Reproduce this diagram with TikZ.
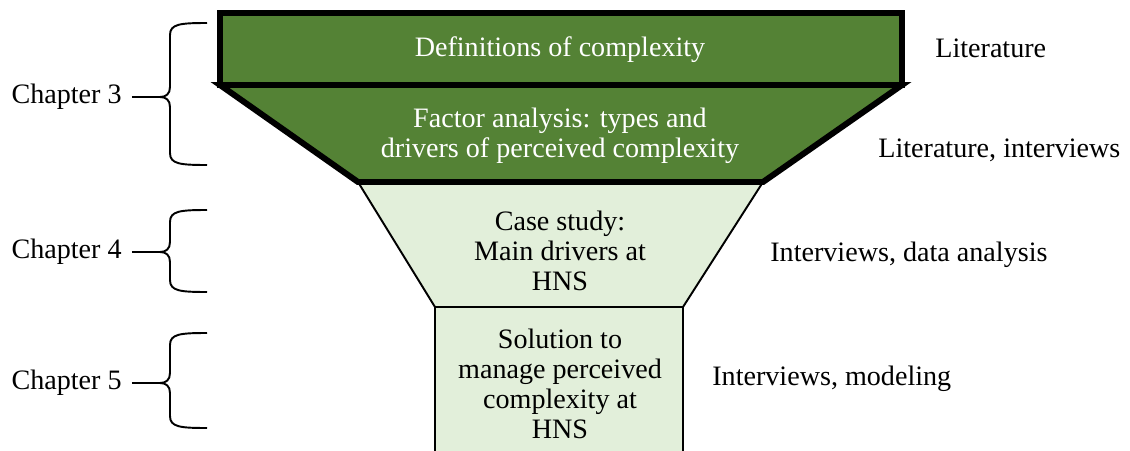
\documentclass[tikz,border=0pt]{standalone}
\usepackage{fontspec}
\setmainfont{Liberation Serif}
\usepackage{tikz}

\definecolor{stagedark}{HTML}{548235}
\definecolor{stagelight}{HTML}{E2EFDA}

\begin{document}
\begin{tikzpicture}[x=0.02cm, y=-0.02cm,
    txt/.style={font=\fontsize{16}{17}\selectfont, align=center, inner sep=0pt},
    heavy/.style={line width=3.4pt, line join=miter},
    thin/.style={line width=1.1pt},
    bracepen/.style={line width=1.1pt}]

\useasboundingbox (0,0) rectangle (1130,450);

% Lower stages of the funnel
\fill[stagelight] (435,455) -- (435,307) -- (683,307) -- (683,455) -- cycle;
\draw[thin] (435,455) -- (435,307) -- (683,307) -- (683,455);
\draw[thin, fill=stagelight] (358,182) -- (763,182) -- (683,307) -- (435,307) -- cycle;

% Upper stages of the funnel
\draw[heavy, fill=stagedark] (220,85) -- (902,85) -- (763,182) -- (358,182) -- cycle;
\draw[heavy, fill=stagedark] (220,13) rectangle (902,85);

% Stage texts
\node[txt, text=white] (defs) at (560,50) {Definitions of complexity};
\node[txt, text=white] (factor) at (560,136) {Factor analysis: types and\\drivers of perceived complexity};
\node[txt] (case) at (560,251) {Case study:\\Main drivers at\\HNS};
\node[txt] (solution) at (560,384) {Solution to\\manage perceived\\complexity at\\HNS};

% Methods on the right
\node[txt, anchor=base west] (lit) at (935,57) {Literature};
\node[txt, anchor=base west] (litint) at (878,157) {Literature, interviews};
\node[txt, anchor=base west] (intdata) at (770,261) {Interviews, data analysis};
\node[txt, anchor=base west] (intmod) at (712,385) {Interviews, modeling};

% Chapters with their braces
\foreach \name/\lab/\top/\mid/\bot in {ch3/Chapter 3/23/97/165, ch4/Chapter 4/210/252/292, ch5/Chapter 5/333/383/428} {
    \node[txt, anchor=east] (\name) at (122,\mid) {\lab};
    \coordinate (\name tip) at (160,\mid);
    \draw[bracepen] (207,\top) .. controls (180,\top) and (170,\top+1) .. (170,\top+12)
        -- (170,\mid-10) .. controls (170,\mid-3) and (166,\mid) .. (\name tip)
        .. controls (166,\mid) and (170,\mid+3) .. (170,\mid+10)
        -- (170,\bot-12) .. controls (170,\bot-1) and (180,\bot) .. (207,\bot);
    \draw[bracepen] ([xshift=0.2cm]\name.east) -- (\name tip);
}

\end{tikzpicture}
\end{document}
